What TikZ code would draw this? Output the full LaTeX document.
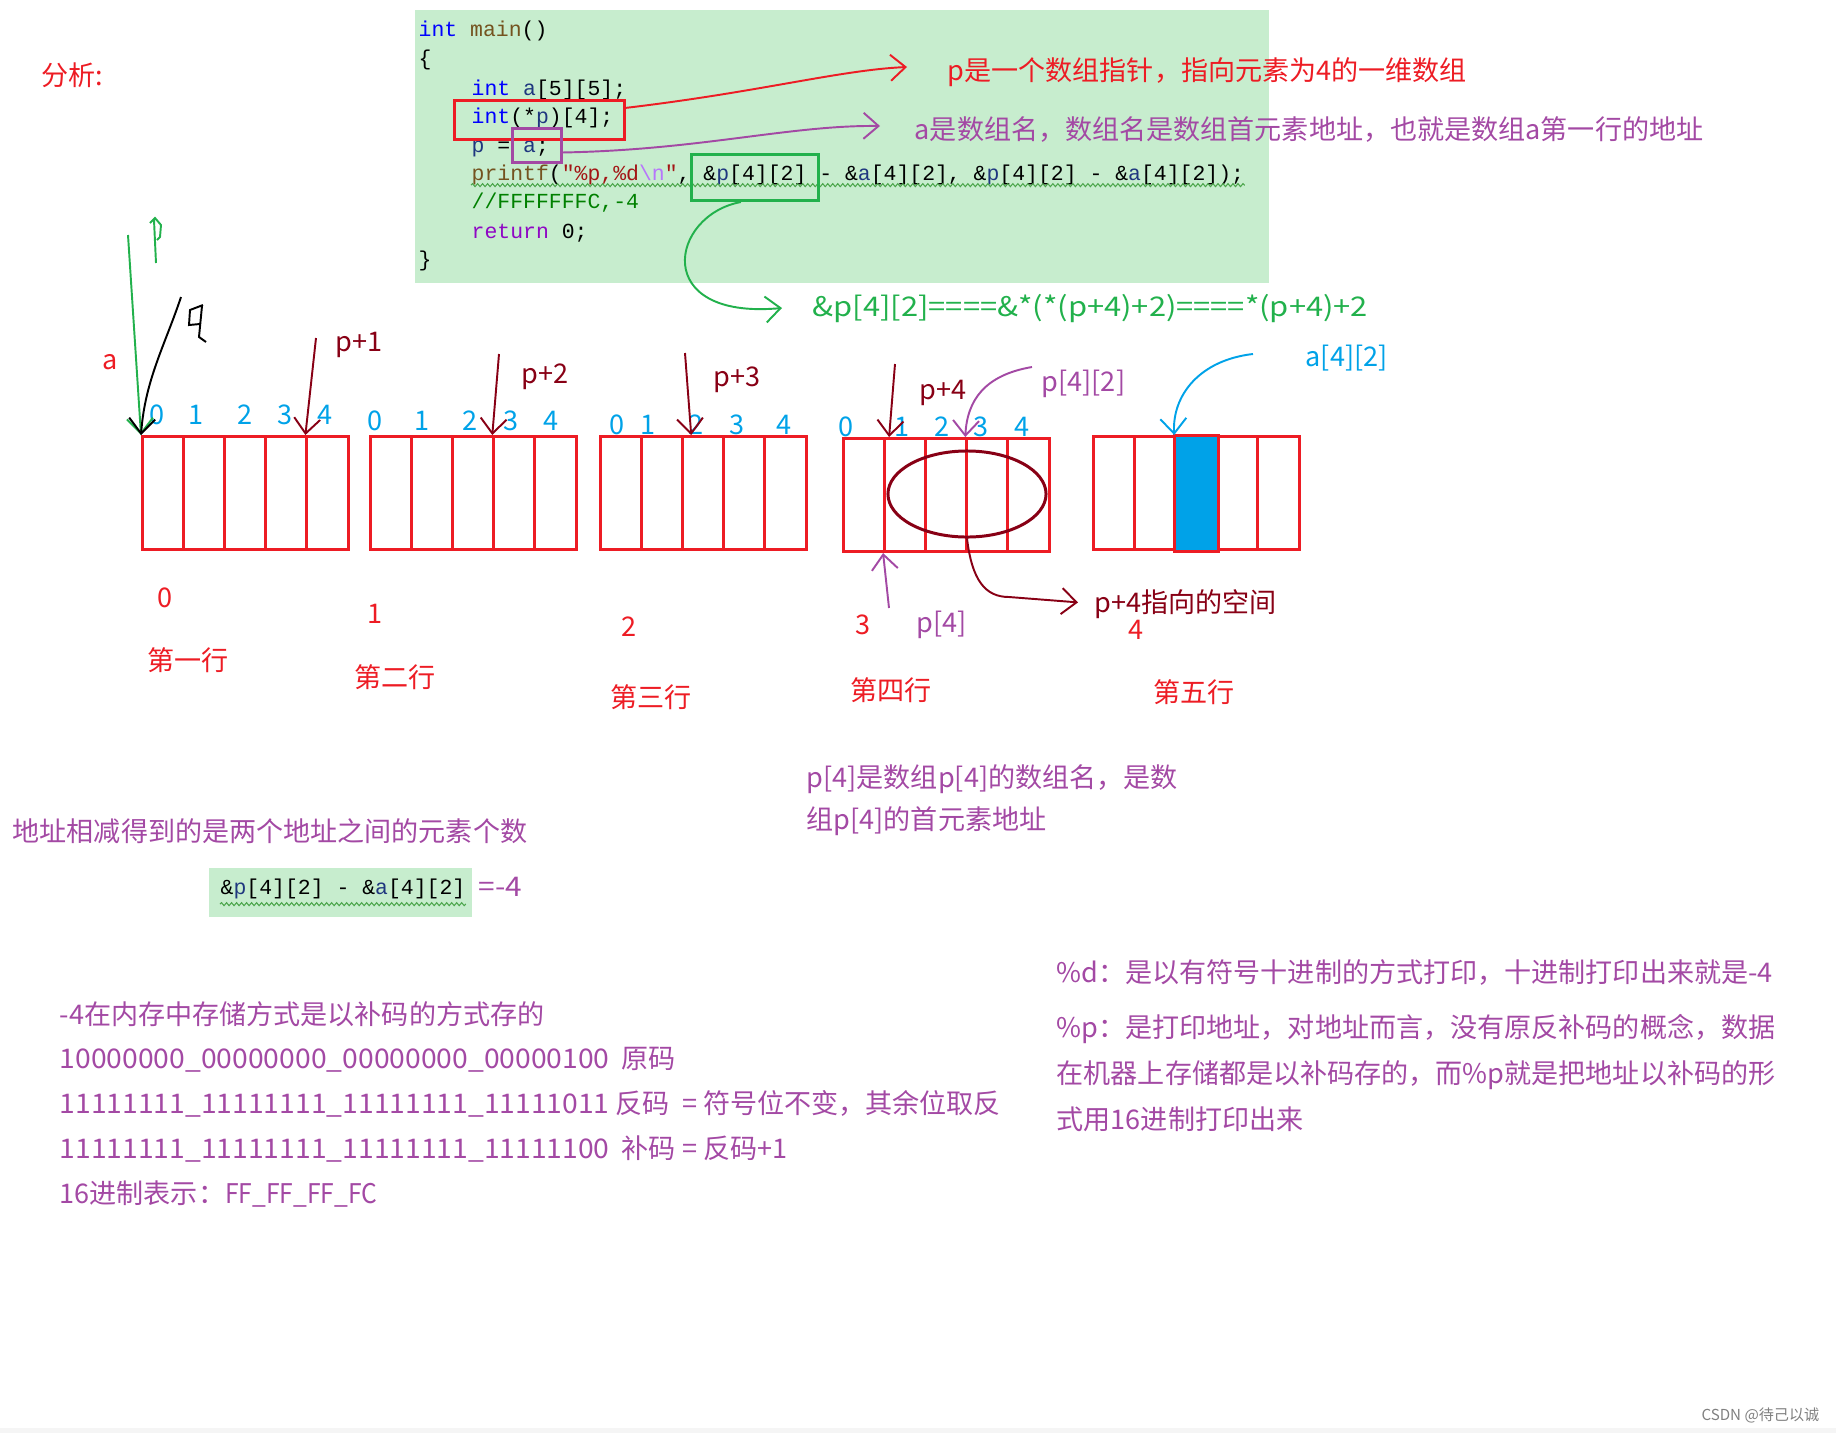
\documentclass[tikz,border=0pt]{standalone}
\usepackage{fontspec}
\setmainfont{Noto Sans CJK SC}
\newfontfamily\codefont{Liberation Mono}
\usetikzlibrary{arrows.meta,shapes.geometric,decorations.pathmorphing}
\definecolor{pred}{RGB}{237,28,36}
\definecolor{ppurple}{RGB}{163,73,164}
\definecolor{pcyan}{RGB}{0,162,232}
\definecolor{pdark}{RGB}{136,0,21}
\definecolor{pgreen}{RGB}{34,177,76}
\definecolor{codebg}{RGB}{199,237,206}
\definecolor{ckwc}{RGB}{0,0,255}
\definecolor{cfnc}{RGB}{116,83,31}
\definecolor{cvarc}{RGB}{31,55,127}
\definecolor{cstrc}{RGB}{163,21,21}
\definecolor{cescc}{RGB}{183,118,251}
\definecolor{ccmtc}{RGB}{0,128,0}
\definecolor{cretc}{RGB}{143,8,196}
\newcommand{\ckw}[1]{\textcolor{ckwc}{#1}}
\newcommand{\cfn}[1]{\textcolor{cfnc}{#1}}
\newcommand{\cvar}[1]{\textcolor{cvarc}{#1}}
\newcommand{\cstr}[1]{\textcolor{cstrc}{#1}}
\newcommand{\cesc}[1]{\textcolor{cescc}{#1}}
\newcommand{\ccmt}[1]{\textcolor{ccmtc}{#1}}
\newcommand{\cret}[1]{\textcolor{cretc}{#1}}
\newcommand{\wide}[2]{{\addfontfeatures{FakeStretch=#1}#2}}
\tikzstyle{cell}=[draw=pred, line width=0.85pt, minimum width=0.411cm,
    minimum height=1.13cm, inner sep=0pt, anchor=north west]
\tikzstyle{txt}=[font=\fontsize{7.7}{9}\selectfont, inner sep=0pt, anchor=base west]
\tikzstyle{idx}=[txt, pcyan, anchor=base]
\tikzstyle{code}=[font=\codefont\fontsize{6.1}{7}\selectfont, inner sep=0pt, anchor=base west]
\tikzstyle{markbox}=[line width=0.85pt, inner sep=0pt, anchor=north west]
\tikzstyle{hand}=[line width=0.55pt, -{Straight Barb[length=1.5mm,width=2.6mm]}]

\begin{document}
\begin{tikzpicture}[x=0.01cm, y=-0.01cm]
  \useasboundingbox (0,0) rectangle (1836,1433);
  \fill[gray!8] (0,1428) rectangle (1836,1433);

  % code
  \node[fill=codebg, minimum width=8.54cm, minimum height=2.73cm, inner sep=0pt,
    anchor=north west] (codebox) at (414,9) {};
  \node[code] (l1) at (418,36) {\ckw{int} \cfn{main}()};
  \node[code] (l2) at (418,65) {\{};
  \node[code] (l3) at (471,95) {\ckw{int} \cvar{a}[5][5];};
  \node[code] (l4) at (471,123) {\ckw{int}(*\cvar{p})[4];};
  \node[code] (l5) at (471,152) {\cvar{p} = \cvar{a};};
  \node[code] (l6) at (471,180) {\cfn{printf}(\cstr{"\%p,\%d}\cesc{\textbackslash n}\cstr{"}, \&\cvar{p}[4][2] - \&\cvar{a}[4][2], \&\cvar{p}[4][2] - \&\cvar{a}[4][2]);};
  \node[code] (l7) at (471,208) {\ccmt{//FFFFFFFC,-4}};
  \node[code] (l8) at (471,238) {\cret{return} 0;};
  \node[code] (l9) at (418,266) {\}};
  \draw[ccmtc!70, line width=0.3pt, decorate, decoration={snake, amplitude=0.15mm,
    segment length=0.5mm}] (l6.south west) -- (l6.south east);

  \node[markbox, draw=pred, minimum width=1.70cm, minimum height=0.39cm] (declbox) at (453,99) {};
  \node[markbox, draw=ppurple, minimum width=0.49cm, minimum height=0.34cm] (asgbox) at (511,127) {};
  \node[markbox, draw=pgreen, minimum width=1.27cm, minimum height=0.46cm] (pbox) at (690,153) {};

  \node[txt, pred] (fenxi) at (41,85) {分析:};
  \node[txt, pred] (ptrnote) at (947,80) {p是一个数组指针，指向元素为4的一维数组};
  \node[txt, ppurple] (anote) at (914,139) {a是数组名，数组名是数组首元素地址，也就是数组a第一行的地址};
  \node[txt, pgreen] (eqnote) at (812,316) {\wide{1.14}{\&p[4][2]====\&*(*(p+4)+2)====*(p+4)+2}};

  \coordinate (redtip) at (907,67);
  \coordinate (purtip) at (880,126);
  \coordinate (grntip) at (782,308);
  \draw[hand, pred] (declbox.8) .. controls (760,92) and (840,70) .. (redtip);
  \draw[hand, ppurple] (asgbox.-15) .. controls (700,150) and (790,125) .. (purtip);
  \draw[hand, pgreen] (pbox.-120) .. controls (670,215) and (650,320) .. (grntip);

  % the five rows
  \foreach \row/\x/\y in {0/141/435, 1/369/435, 2/599/435, 3/842/437, 4/1092/435}
    \foreach \col in {0,...,4}
      \node[cell] (r\row c\col) at (\x+\col*41.1, \y) {};
  \filldraw[fill=pcyan, draw=pred, line width=0.85pt] (r4c2.north west) rectangle (r4c2.south east);

  \foreach \x [count=\k from 0] in {157,196,245,285,325} \node[idx] (ia\k) at (\x,424) {\k};
  \foreach \x [count=\k from 0] in {375,422,470,511,551} \node[idx] (ib\k) at (\x,430) {\k};
  \foreach \x [count=\k from 0] in {617,648,696,737,784} \node[idx] (ic\k) at (\x,434) {\k};
  \foreach \x [count=\k from 0] in {846,902,942,981,1022} \node[idx] (id\k) at (\x,436) {\k};

  \node[txt, pred, anchor=base] (n0) at (165,607) {0};
  \node[txt, pred, anchor=base] (n1) at (375,623) {1};
  \node[txt, pred, anchor=base] (n2) at (629,636) {2};
  \node[txt, pred, anchor=base] (n3) at (863,634) {3};
  \node[txt, pred, anchor=base] (n4) at (1136,639) {4};
  \node[txt, pred, anchor=base] (row0) at (188,670) {第一行};
  \node[txt, pred, anchor=base] (row1) at (395,687) {第二行};
  \node[txt, pred, anchor=base] (row2) at (651,707) {第三行};
  \node[txt, pred, anchor=base] (row3) at (891,700) {第四行};
  \node[txt, pred, anchor=base] (row4) at (1194,702) {第五行};

  % hand drawn pointers
  \node[txt, pred, anchor=base] (alab) at (110,369) {a};
  \coordinate (gtop) at (128,235);
  \coordinate (bktop) at (181,297);
  \draw[hand, pgreen] (gtop) -- (r0c0.north west);
  \draw[hand, black] (bktop) .. controls (165,345) and (145,380) .. (r0c0.north west);
  \draw[pgreen, line width=0.55pt] (156,263) -- (154,220) (150,223) -- (155,218) -- (161,225)
    -- (160,237) -- (157,240);
  \draw[black, line width=0.55pt] (203,305) -- (190,310) -- (189,325) -- (200,324)
    (202,306) -- (199,337) -- (206,342);

  \node[txt, pdark] (p1) at (335,351) {p+1};
  \node[txt, pdark] (p2) at (521,383) {p+2};
  \node[txt, pdark] (p3) at (713,386) {p+3};
  \node[txt, pdark] (p4) at (919,399) {p+4};
  \coordinate (p1top) at (316,338);
  \coordinate (p2top) at (499,354);
  \coordinate (p3top) at (685,353);
  \coordinate (p4top) at (895,364);
  \draw[hand, pdark] (p1top) -- (r0c4.north west);
  \draw[hand, pdark] (p2top) -- (r1c3.north west);
  \draw[hand, pdark] (p3top) -- ([xshift=0.1cm]r2c2.north west);
  \draw[hand, pdark] (p4top) -- ([xshift=0.06cm]r3c1.north west);

  \node[txt, ppurple] (pel) at (1041,391) {p[4][2]};
  \node[txt, pcyan] (ael) at (1305,366) {a[4][2]};
  \coordinate (peltop) at (1032,367);
  \coordinate (aeltop) at (1253,354);
  \draw[hand, ppurple] (peltop) .. controls (985,375) and (967,400) .. (r3c3.north west);
  \draw[hand, pcyan] (aeltop) .. controls (1200,360) and (1172,395) .. (r4c2.north west);

  \node[draw=pdark, line width=0.85pt, ellipse, minimum width=1.58cm, minimum height=0.86cm]
    (rowsp) at (967,494) {};
  \node[txt, pdark] (spacelbl) at (1094,612) {p+4指向的空间};
  \draw[hand, pdark, shorten >=0.16cm] (rowsp.south) .. controls (972,580) and (985,597)
    .. (1009,597) -- (spacelbl.west);

  \node[txt, ppurple] (p4lab) at (916,632) {p[4]};
  \coordinate (p4bot) at (889,608);
  \draw[hand, ppurple] (p4bot) -- (r3c1.south west);

  % notes
  \node[txt, ppurple] (subnote) at (12,841) {地址相减得到的是两个地址之间的元素个数};
  \node[fill=codebg, minimum width=2.63cm, minimum height=0.49cm, inner sep=0pt,
    anchor=north west] (diffbox) at (208,867) {};
  \node[code] (diffcode) at (220,894) {\&\cvar{p}[4][2] - \&\cvar{a}[4][2]};
  \draw[ccmtc!70, line width=0.3pt, decorate, decoration={snake, amplitude=0.15mm,
    segment length=0.5mm}] ([yshift=-0.05cm]diffcode.south west) -- ([yshift=-0.05cm]diffcode.south east);
  \node[txt, ppurple] (diffval) at (478,896) {\wide{1.1}{=-4}};

  \node[txt, ppurple] (m1) at (59,1024) {-4在内存中存储方式是以补码的方式存的};
  \node[txt, ppurple] (m2) at (59,1068) {\wide{1.045}{10000000\_00000000\_00000000\_00000100}\ \ 原码};
  \node[txt, ppurple] (m3) at (59,1113) {\wide{1.045}{11111111\_11111111\_11111111\_11111011} 反码\ \ = 符号位不变，其余位取反};
  \node[txt, ppurple] (m4) at (59,1158) {\wide{1.045}{11111111\_11111111\_11111111\_11111100}\ \ 补码 = 反码+1};
  \node[txt, ppurple] (m5) at (59,1203) {16进制表示：\wide{0.91}{FF\_FF\_FF\_FC}};

  \node[txt, ppurple] (q1) at (806,787) {p[4]是数组p[4]的数组名，是数};
  \node[txt, ppurple] (q2) at (806,829) {组p[4]的首元素地址};

  \node[txt, ppurple] (f1) at (1056,982) {\%d：是以有符号十进制的方式打印，十进制打印出来就是-4};
  \node[txt, ppurple] (f2) at (1056,1037) {\%p：是打印地址，对地址而言，没有原反补码的概念，数据};
  \node[txt, ppurple] (f3) at (1056,1083) {在机器上存储都是以补码存的，而\%p就是把地址以补码的形};
  \node[txt, ppurple] (f4) at (1056,1129) {式用16进制打印出来};

  \node[font=\fontsize{4.3}{5}\selectfont, text=gray, inner sep=0pt, anchor=base east]
    (wmark) at (1820,1420) {CSDN @待己以诚};
\end{tikzpicture}
\end{document}
